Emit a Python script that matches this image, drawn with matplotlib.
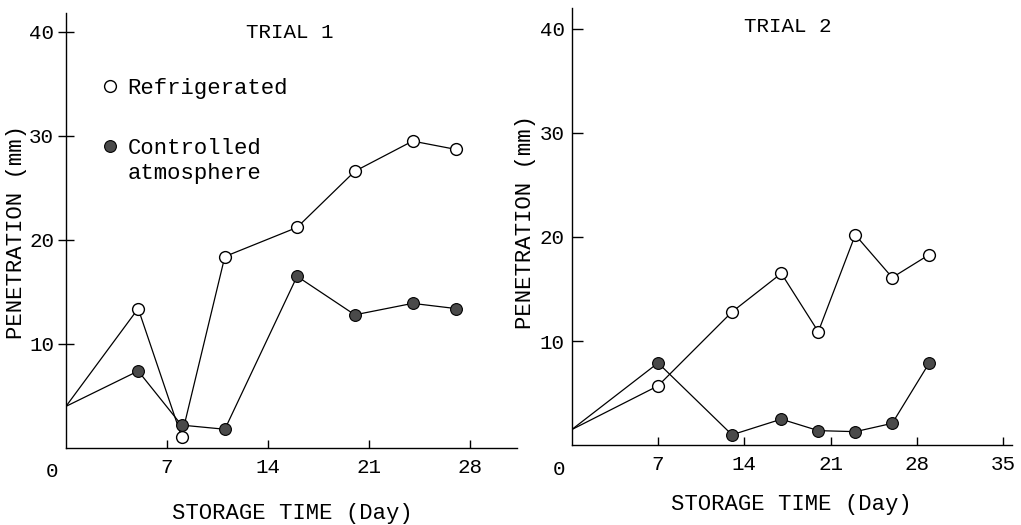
import matplotlib.pyplot as plt
from matplotlib.lines import Line2D

# Trial 1 data (day, penetration mm)
t1_days_ref = [0, 5, 8, 11, 16, 20, 24, 27]
t1_ref = [4.0, 13.4, 1.1, 18.4, 21.2, 26.6, 29.5, 28.7]
t1_days_ca = [0, 5, 8, 11, 16, 20, 24, 27]
t1_ca = [4.0, 7.4, 2.2, 1.8, 16.5, 12.8, 13.9, 13.4]

# Trial 2 data
t2_days_ref = [0, 7, 13, 17, 20, 23, 26, 29]
t2_ref = [1.5, 5.7, 12.8, 16.5, 10.9, 20.2, 16.1, 18.3]
t2_days_ca = [0, 7, 13, 17, 20, 23, 26, 29]
t2_ca = [1.5, 7.9, 1.0, 2.5, 1.4, 1.3, 2.1, 7.9]

plt.rcParams['font.family'] = ['Liberation Mono', 'DejaVu Sans Mono']

fig = plt.figure(figsize=(10.21, 5.25), dpi=100)
ax1 = fig.add_axes([0.0646, 0.1467, 0.4414, 0.8283])
ax2 = fig.add_axes([0.560, 0.152, 0.431, 0.833])

fill = '#4a4a4a'
ms = 8.5


def style(ax, xmax, ymax, xticks, xlab_pos, ylab_pos, ydir, ylen, ypad):
    ax.set_xlim(0, xmax)
    ax.set_ylim(0, ymax)
    for s in ['top', 'right']:
        ax.spines[s].set_visible(False)
    for s in ['left', 'bottom']:
        ax.spines[s].set_linewidth(1.0)
    ax.set_xticks(xticks)
    ax.set_yticks([10, 20, 30, 40])
    ax.tick_params(axis='x', direction='in', length=6, width=1, labelsize=15, pad=7)
    ax.tick_params(axis='y', direction=ydir, length=ylen, width=1, labelsize=15, pad=ypad)
    ax.text(-0.03, -0.055, '0', transform=ax.transAxes, fontsize=15,
            ha='center', va='center')
    ax.set_xlabel('STORAGE TIME (Day)', fontsize=16)
    ax.set_ylabel('PENETRATION (mm)', fontsize=16)
    ax.xaxis.set_label_coords(*xlab_pos)
    ax.yaxis.set_label_coords(*ylab_pos)


def draw(ax, dr, yr, dc, yc):
    ax.plot(dr, yr, color='black', lw=0.9, marker='o', ms=ms,
            mfc='white', mec='black', mew=1.0, markevery=list(range(1, len(dr))))
    ax.plot(dc, yc, color='black', lw=0.9, marker='o', ms=ms,
            mfc=fill, mec='black', mew=0.8, markevery=list(range(1, len(dc))))


style(ax1, 31.2, 41.8, [7, 14, 21, 28], (0.503, -0.126), (-0.086, 0.497),
      'inout', 11, 3)
draw(ax1, t1_days_ref, t1_ref, t1_days_ca, t1_ca)
ax1.text(15.5, 39.9, 'TRIAL 1', fontsize=15, ha='center', va='center')

handles = [
    Line2D([], [], ls='none', marker='o', ms=ms, mfc='white', mec='black', mew=1.0),
    Line2D([], [], ls='none', marker='o', ms=ms, mfc=fill, mec='black', mew=0.8),
]
ax1.legend(handles, ['Refrigerated', 'Controlled'], loc='upper left',
           bbox_to_anchor=(0.063, 0.871), frameon=False, fontsize=16,
           handlelength=0.6, handletextpad=0.5, labelspacing=1.75,
           borderaxespad=0)
ax1.text(0.1375, 0.632, 'atmosphere', transform=ax1.transAxes, fontsize=16,
         ha='left', va='center')

style(ax2, 35.7, 42.0, [7, 14, 21, 28, 35], (0.5, -0.112), (-0.082, 0.51),
      'in', 8, 5)
draw(ax2, t2_days_ref, t2_ref, t2_days_ca, t2_ca)
ax2.text(17.5, 40.2, 'TRIAL 2', fontsize=15, ha='center', va='center')

fig.savefig('out.png', dpi=100)
